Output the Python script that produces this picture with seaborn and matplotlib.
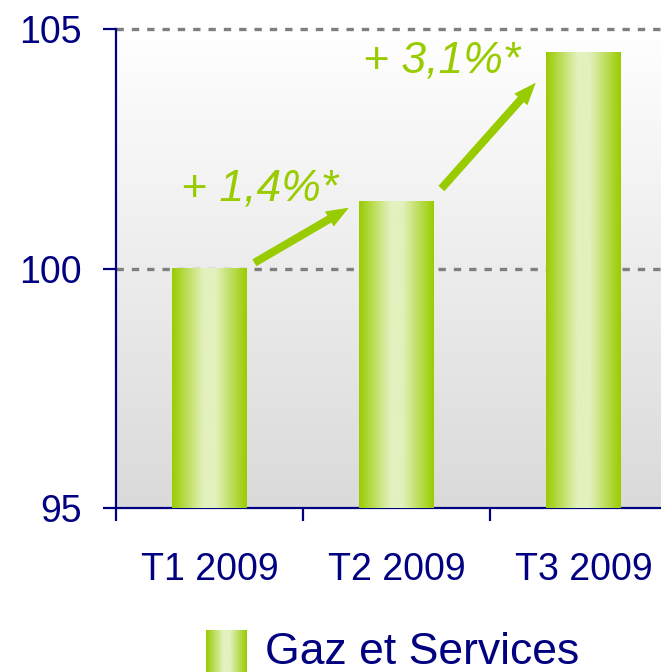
import numpy as np
import pandas as pd
import seaborn as sns
import matplotlib.pyplot as plt
from matplotlib.colors import LinearSegmentedColormap

# data (index, T1 2009 = 100)
quarters = ["T1 2009", "T2 2009", "T3 2009"]
index_values = [100.0, 101.4, 104.5]
growth_labels = ["+ 1,4%*", "+ 3,1%*"]
series_name = "Gaz et Services"
y_ticks = [95, 100, 105]

navy = "#000080"
green = "#99CC00"

sns.set_theme(style="white")
plt.rcParams["font.family"] = ["Liberation Sans", "DejaVu Sans"]

df = pd.DataFrame({"quarter": quarters, "index": index_values})

fig = plt.figure(figsize=(6.61, 6.72), dpi=100)
ax = fig.add_axes([0.1755, 0.244, 0.8487, 0.7128])

sns.barplot(data=df, x="quarter", y="index", width=0.4, color=green, ax=ax,
            saturation=1, linewidth=0, zorder=3)

# green bars, light in the middle
bar_cmap = LinearSegmentedColormap.from_list(
    "bar", [(0, "#99CC00"), (0.42, "#E3F1BE"), (0.58, "#E3F1BE"), (1, "#99CC00")])
grad = np.linspace(0, 1, 256).reshape(1, -1)
for p in ax.patches:
    x0, y0 = p.get_x(), p.get_y()
    ax.imshow(grad, cmap=bar_cmap, aspect="auto", zorder=3.5,
              extent=(x0, x0 + p.get_width(), y0, y0 + p.get_height()))

# background: white at the top, light grey at the bottom
bg_cmap = LinearSegmentedColormap.from_list("bg", ["#FFFFFF", "#DADADA"])
ax.imshow(np.linspace(0, 1, 256).reshape(-1, 1), cmap=bg_cmap, aspect="auto",
          extent=(0, 1, 0, 1), transform=ax.transAxes, zorder=-1)

ax.set_ylim(95, 105)
ax.set_xlim(-0.5, 2.5)
ax.set_yticks(y_ticks)
ax.set_xticks([-0.5, 0.5, 1.5, 2.5], minor=True)
ax.set_xlabel("")
ax.set_ylabel("")

# dashed gridlines (none on the bottom one, it sits under the axis)
for yv in y_ticks[1:]:
    ax.axhline(yv, color="#7F7F7F", linewidth=2.4, linestyle=(0, (2.2, 2.4)),
               zorder=1, clip_on=False)

for side in ["top", "right"]:
    ax.spines[side].set_visible(False)
for side in ["left", "bottom"]:
    ax.spines[side].set_color(navy)
    ax.spines[side].set_linewidth(1.6)

ax.tick_params(axis="y", which="major", left=True, length=9.5, width=1.6,
               color=navy, labelcolor=navy, labelsize=27, pad=15)
ax.tick_params(axis="x", which="major", length=0, labelcolor=navy,
               labelsize=27, pad=32)
ax.tick_params(axis="x", which="minor", bottom=True, length=9, width=1.6,
               color=navy)

# growth arrows and labels
label_dy = [0.02, -0.41]
label_dx = [0.27, 0.24]
arrow_gap = [(0.12, 0.13), (0.27, 0.62)]
for i, lab in enumerate(growth_labels):
    start = (i + 0.24, index_values[i] + arrow_gap[i][0])
    end = (i + 0.745, index_values[i + 1] - arrow_gap[i][1])
    ax.annotate("", xy=end, xytext=start, zorder=5,
                arrowprops=dict(arrowstyle="simple,head_length=0.9,head_width=0.7,tail_width=0.32",
                                color=green, lw=0, shrinkA=0, shrinkB=0,
                                mutation_scale=18))
    ax.text(i + label_dx[i], index_values[i + 1] + label_dy[i], lab, color=green,
            fontsize=32, style="italic", ha="center", va="baseline", zorder=5)

# legend swatch + label at the bottom
lax = fig.add_axes([206 / 661, 0, 41 / 661, 42 / 672])
lax.imshow(grad, cmap=bar_cmap, aspect="auto")
lax.axis("off")
fig.text(265 / 661, 8 / 672, series_name, fontsize=32, color=navy, va="baseline")

fig.savefig("out.png", dpi=100)
